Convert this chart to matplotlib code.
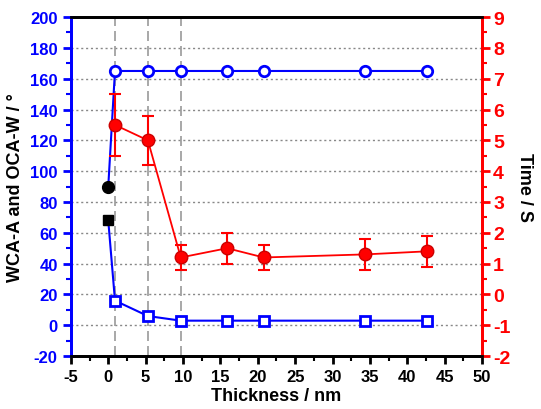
import matplotlib.pyplot as plt
from matplotlib.ticker import MultipleLocator

plt.rcParams['font.family'] = ['Liberation Sans', 'DejaVu Sans']
plt.rcParams['font.weight'] = 'bold'
plt.rcParams['axes.unicode_minus'] = False

# Data
thickness = [0.9, 5.3, 9.7, 15.9, 20.8, 34.4, 42.7]
oca_w = [165, 165, 165, 165, 165, 165, 165]
wca_a = [16, 6, 3, 3, 3, 3, 3]
bare_x = 0.0
bare_oca = 90
bare_wca = 68
time_s = [5.5, 5.0, 1.2, 1.5, 1.2, 1.3, 1.4]
time_err = [1.0, 0.8, 0.4, 0.5, 0.4, 0.5, 0.5]
dashed_x = [0.9, 5.3, 9.7]

fig = plt.figure(figsize=(5.41, 4.10), dpi=100)
ax = fig.add_axes([0.131, 0.129, 0.760, 0.827])
ax2 = ax.twinx()

# horizontal dotted grid and vertical dashed lines
for y in range(-20, 201, 20):
    ax.axhline(y, color='#888888', linestyle=(0, (1.5, 2)), linewidth=1.0, zorder=0)
for x in dashed_x:
    ax.axvline(x, color='#999999', linestyle=(0, (6, 3)), linewidth=1.2, zorder=0)

# blue series, connected from the bare substrate point
ax.plot([bare_x] + thickness, [bare_oca] + oca_w, color='blue', linewidth=1.5,
        marker='o', markersize=7.5, markerfacecolor='white', markeredgewidth=2,
        markevery=list(range(1, 8)), zorder=3)
ax.plot([bare_x] + thickness, [bare_wca] + wca_a, color='blue', linewidth=1.5,
        marker='s', markersize=6.5, markerfacecolor='white', markeredgewidth=2,
        markevery=list(range(1, 8)), zorder=3)
ax.plot([bare_x], [bare_oca], 'o', color='black', markersize=8.5, zorder=4)
ax.plot([bare_x], [bare_wca], 's', color='black', markersize=6.5, zorder=4)

# red series on right axis
ax2.errorbar(thickness, time_s, yerr=time_err, color='red', linewidth=1.3,
             marker='o', markersize=9, markeredgecolor='#cc0000', capsize=4,
             elinewidth=1.5, capthick=1.5, zorder=3)

ax.set_xlim(-5, 50)
ax.set_ylim(-20, 200)
ax2.set_ylim(-2, 9)

ax.xaxis.set_major_locator(MultipleLocator(5))
ax.xaxis.set_minor_locator(MultipleLocator(2.5))
ax.yaxis.set_major_locator(MultipleLocator(20))
ax.yaxis.set_minor_locator(MultipleLocator(10))
ax2.yaxis.set_major_locator(MultipleLocator(1))
ax2.yaxis.set_minor_locator(MultipleLocator(0.5))

ax.spines['left'].set_color('blue')
ax2.spines['left'].set_color('blue')
ax.spines['right'].set_color('red')
ax2.spines['right'].set_color('red')
for sp in ['left', 'right', 'top', 'bottom']:
    ax.spines[sp].set_linewidth(2)
    ax2.spines[sp].set_linewidth(2)

ax.tick_params(axis='x', which='major', direction='out', length=6, width=2,
               labelsize=12, colors='black')
ax.tick_params(axis='x', which='minor', direction='out', length=3.5, width=1.5)
ax.tick_params(axis='y', which='major', direction='out', length=6, width=2,
               labelsize=12, colors='blue')
ax.tick_params(axis='y', which='minor', direction='out', length=3.5, width=1.5,
               colors='blue')
ax2.tick_params(axis='y', which='major', direction='out', length=6, width=2,
                labelsize=14, colors='red', pad=2)
ax2.tick_params(axis='y', which='minor', direction='out', length=3.5, width=1.5,
                colors='red')

for lbl in ax.get_xticklabels() + ax.get_yticklabels() + ax2.get_yticklabels():
    lbl.set_fontweight('bold')

ax.set_xlabel('Thickness / nm', fontsize=13, fontweight='bold', labelpad=2)
ax.set_ylabel('WCA-A and OCA-W / °', fontsize=13, fontweight='bold', labelpad=4)
ax2.set_ylabel('Time / S', fontsize=13, fontweight='bold', rotation=270, labelpad=16)

fig.savefig('out.png', dpi=100)
